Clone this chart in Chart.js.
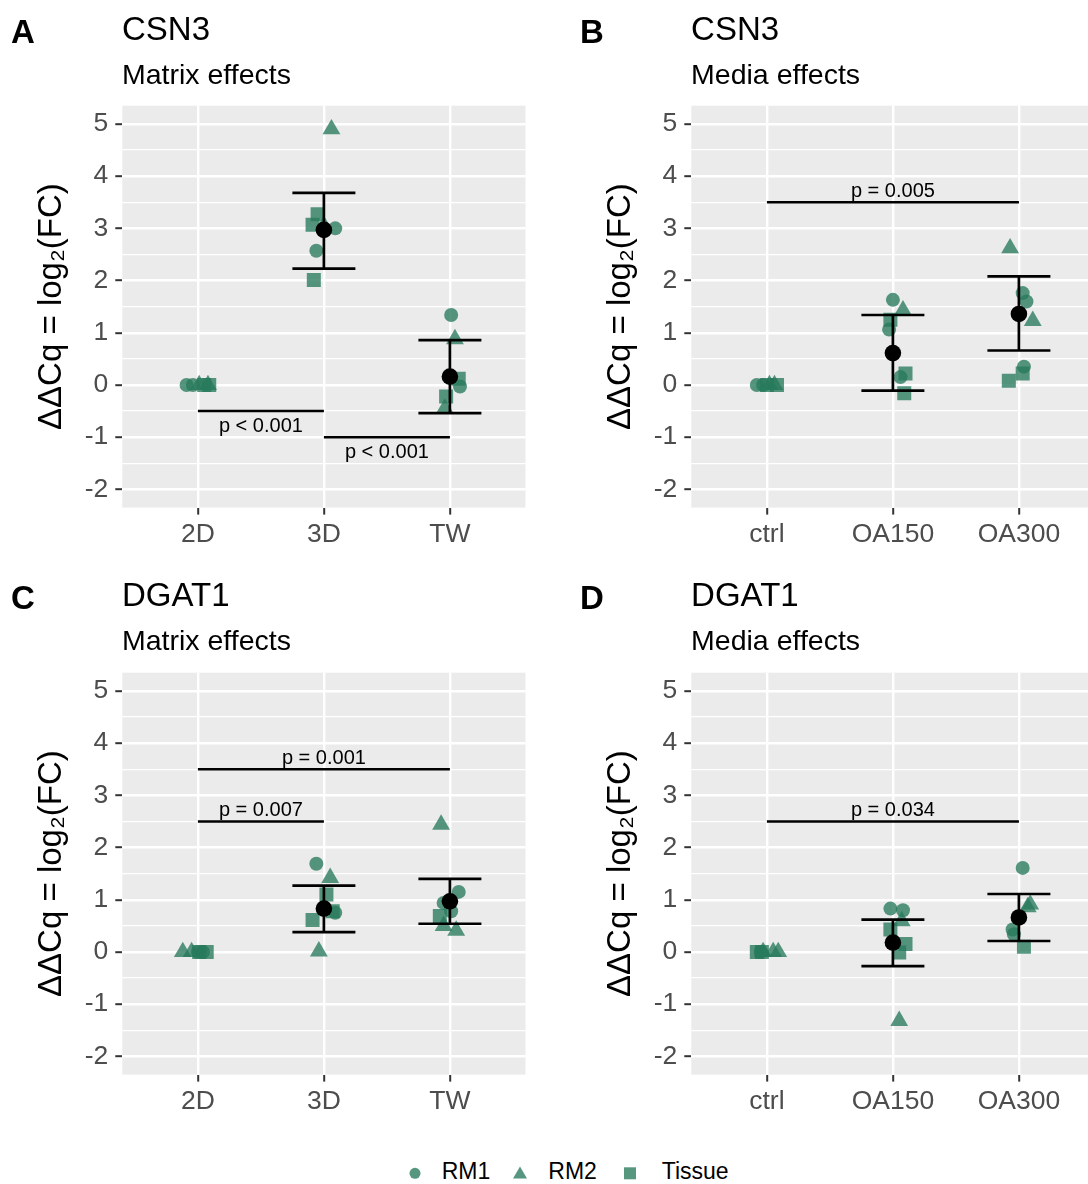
<!DOCTYPE html>
<html>
<head>
<meta charset="utf-8">
<script src="https://cdn.jsdelivr.net/npm/chart.js@4.4.1/dist/chart.umd.min.js"></script>
<style>
  html, body { margin: 0; padding: 0; background: #fff; overflow: hidden; }
  #page { position: relative; width: 1088px; height: 1184px; overflow: hidden;
          font-family: "Liberation Sans", Arial, sans-serif; color: #000; }
  .panel { position: absolute; width: 530px; height: 566px; }
  .panel canvas { position: absolute; left: 0; top: 0; }
  .tag { position: absolute; left: 11px; top: 14.5px; font-size: 33px; line-height: 33px; font-weight: bold; }
  .title { position: absolute; left: 122px; top: 11.7px; font-size: 33px; line-height: 33px; }
  .subtitle { position: absolute; left: 122px; top: 59.6px; font-size: 28.5px; line-height: 28.5px; }
  .legend-text { position: absolute; top: 1159.8px; font-size: 23px; line-height: 23px; }
  .legend-key { position: absolute; top: 1164px; }
</style>
</head>
<body>
<div id="page">
  <div class="panel" style="left:0;top:0">
    <canvas id="panelA" width="530" height="566"></canvas>
    <div class="tag">A</div><div class="title">CSN3</div><div class="subtitle">Matrix effects</div>
  </div>
  <div class="panel" style="left:569.1px;top:0">
    <canvas id="panelB" width="530" height="566"></canvas>
    <div class="tag">B</div><div class="title">CSN3</div><div class="subtitle">Media effects</div>
  </div>
  <div class="panel" style="left:0;top:566.7px">
    <canvas id="panelC" width="530" height="566"></canvas>
    <div class="tag">C</div><div class="title">DGAT1</div><div class="subtitle">Matrix effects</div>
  </div>
  <div class="panel" style="left:569.1px;top:566.7px">
    <canvas id="panelD" width="530" height="566"></canvas>
    <div class="tag">D</div><div class="title">DGAT1</div><div class="subtitle">Media effects</div>
  </div>

  <svg class="legend-key" style="left:405px" width="240" height="20">
    <circle cx="10" cy="9.3" r="5.5" fill="rgba(40,122,92,0.78)"/>
    <polygon points="115,2.5 122,14.5 108,14.5" fill="rgba(40,122,92,0.78)"/>
    <rect x="219" y="3.3" width="12" height="12" fill="rgba(40,122,92,0.78)"/>
  </svg>
  <div class="legend-text" style="left:441.7px">RM1</div>
  <div class="legend-text" style="left:548.3px">RM2</div>
  <div class="legend-text" style="left:661.7px">Tissue</div>
</div>

<script>
const matrixGroups = ['2D', '3D', 'TW'];
const mediaGroups = ['ctrl', 'OA150', 'OA300'];
const yTickValues = [-2, -1, 0, 1, 2, 3, 4, 5];

// each replicate: [group number, jitter, ΔΔCq]
const csn3MatrixRM1 = [[1, -0.09, 0], [1, -0.04, 0], [2, 0.09, 3.0], [2, -0.06, 2.57], [3, 0.01, 1.34], [3, 0.08, -0.03]];
const csn3MatrixRM2 = [[1, 0.01, 0], [1, 0.08, 0], [2, 0.06, 4.9], [2, 0.0, 3.05], [3, 0.04, 0.88], [3, -0.04, -0.45]];
const csn3MatrixTissue = [[1, 0.05, 0], [1, 0.09, 0], [2, -0.05, 3.27], [2, -0.09, 3.07], [2, -0.08, 2.01], [3, 0.07, 0.12], [3, -0.03, -0.22]];
const csn3MatrixMean = [null, 2.97, 0.16];
const csn3MatrixLow = [null, 2.23, -0.54];
const csn3MatrixHigh = [null, 3.68, 0.86];
const csn3MatrixTests = [
  { from: 1, to: 2, y: -0.5, label: 'p < 0.001', below: true },
  { from: 2, to: 3, y: -1, label: 'p < 0.001', below: true }
];

const csn3MediaRM1 = [[1, -0.08, 0], [1, -0.03, 0], [2, 0.0, 1.63], [2, -0.03, 1.06], [2, 0.06, 0.15], [3, 0.03, 1.76], [3, 0.06, 1.6], [3, 0.04, 0.35]];
const csn3MediaRM2 = [[1, 0.02, 0], [1, 0.06, 0], [2, 0.08, 1.43], [3, -0.07, 2.62], [3, 0.11, 1.23]];
const csn3MediaTissue = [[1, 0.0, 0], [1, 0.08, 0], [2, -0.02, 1.25], [2, 0.1, 0.22], [2, 0.09, -0.16], [3, 0.03, 0.22], [3, -0.08, 0.08]];
const csn3MediaMean = [null, 0.61, 1.36];
const csn3MediaLow = [null, -0.11, 0.66];
const csn3MediaHigh = [null, 1.34, 2.08];
const csn3MediaTests = [
  { from: 1, to: 3, y: 3.5, label: 'p = 0.005', below: false }
];

const dgat1MatrixRM1 = [[1, 0.0, 0], [1, 0.04, 0], [2, -0.06, 1.69], [2, 0.09, 0.75], [3, 0.07, 1.15], [3, -0.05, 0.94], [3, 0.01, 0.78]];
const dgat1MatrixRM2 = [[1, -0.12, 0], [1, -0.05, 0], [2, 0.05, 1.42], [2, -0.04, 0.01], [3, -0.07, 2.44], [3, -0.05, 0.5], [3, 0.05, 0.41]];
const dgat1MatrixTissue = [[1, 0.01, 0], [1, 0.07, 0], [2, 0.02, 1.1], [2, 0.07, 0.78], [2, -0.09, 0.61], [3, -0.08, 0.69]];
const dgat1MatrixMean = [null, 0.83, 0.97];
const dgat1MatrixLow = [null, 0.38, 0.54];
const dgat1MatrixHigh = [null, 1.27, 1.40];
const dgat1MatrixTests = [
  { from: 1, to: 3, y: 3.5, label: 'p = 0.001', below: false },
  { from: 1, to: 2, y: 2.5, label: 'p = 0.007', below: false }
];

const dgat1MediaRM1 = [[1, -0.05, 0], [2, -0.02, 0.83], [2, 0.08, 0.8], [3, 0.03, 1.61], [3, -0.05, 0.43], [3, -0.04, 0.34]];
const dgat1MediaRM2 = [[1, -0.03, 0], [1, 0.05, 0], [1, 0.09, 0], [2, 0.07, 0.59], [2, 0.05, -1.32], [3, 0.09, 0.91], [3, 0.07, 0.86]];
const dgat1MediaTissue = [[1, -0.08, 0], [1, -0.04, 0], [2, -0.02, 0.43], [2, 0.1, 0.15], [2, 0.05, -0.01], [3, 0.04, 0.1]];
const dgat1MediaMean = [null, 0.18, 0.66];
const dgat1MediaLow = [null, -0.27, 0.21];
const dgat1MediaHigh = [null, 0.62, 1.11];
const dgat1MediaTests = [
  { from: 1, to: 3, y: 2.5, label: 'p = 0.034', below: false }
];

const FONT = '"Liberation Sans", Arial, sans-serif';
const GREEN = 'rgba(40,122,92,0.78)';
Chart.defaults.font.family = FONT;

// grey panel behind the grid, like ggplot's theme_gray
const panelBackground = {
  id: 'panelBackground',
  beforeDraw(chart) {
    const { ctx, chartArea: a } = chart;
    ctx.save();
    ctx.fillStyle = '#EBEBEB';
    ctx.fillRect(a.left, a.top, a.right - a.left, a.bottom - a.top);
    ctx.restore();
  }
};

// mean ± interval whiskers, drawn just under the black mean dots (dataset 0)
const errorBars = {
  id: 'errorBars',
  beforeDatasetDraw(chart, args, opts) {
    if (args.index !== 0) return;
    const { ctx, scales: { x, y } } = chart;
    ctx.save();
    ctx.strokeStyle = '#000';
    ctx.lineWidth = 2.7;
    opts.low.forEach((lo, i) => {
      if (lo == null) return;
      const g = i + 1;
      const xc = x.getPixelForValue(g);
      const xl = x.getPixelForValue(g - opts.halfWidth);
      const xr = x.getPixelForValue(g + opts.halfWidth);
      const yl = y.getPixelForValue(lo);
      const yh = y.getPixelForValue(opts.high[i]);
      ctx.beginPath();
      ctx.moveTo(xc, yl); ctx.lineTo(xc, yh);
      ctx.moveTo(xl, yl); ctx.lineTo(xr, yl);
      ctx.moveTo(xl, yh); ctx.lineTo(xr, yh);
      ctx.stroke();
    });
    ctx.restore();
  }
};

// significance bars with their p-values
const significance = {
  id: 'significance',
  afterDatasetsDraw(chart, args, opts) {
    const { ctx, scales: { x, y } } = chart;
    ctx.save();
    ctx.strokeStyle = '#000';
    ctx.fillStyle = '#000';
    ctx.lineWidth = 2.5;
    ctx.font = '20px ' + FONT;
    ctx.textAlign = 'center';
    opts.tests.forEach(t => {
      const x1 = x.getPixelForValue(t.from);
      const x2 = x.getPixelForValue(t.to);
      const yy = y.getPixelForValue(t.y);
      ctx.beginPath();
      ctx.moveTo(x1, yy); ctx.lineTo(x2, yy);
      ctx.stroke();
      if (t.below) {
        ctx.textBaseline = 'top';
        ctx.fillText(t.label, (x1 + x2) / 2, yy + 5);
      } else {
        ctx.textBaseline = 'bottom';
        ctx.fillText(t.label, (x1 + x2) / 2, yy - 1);
      }
    });
    ctx.restore();
  }
};

const yGridValues = [];
yTickValues.forEach((v, i) => {
  yGridValues.push(v);
  if (i < yTickValues.length - 1) yGridValues.push(v + 0.5);
});

function toPoints(rows) {
  return rows.map(([g, jitter, v]) => ({ x: g + jitter, y: v }));
}

function drawPanel(id, groups, rm1, rm2, tissue, mean, low, high, tests) {
  const meanPoints = [];
  mean.forEach((v, i) => { if (v != null) meanPoints.push({ x: i + 1, y: v }); });

  new Chart(document.getElementById(id), {
    type: 'scatter',
    data: {
      datasets: [
        { label: 'Mean', data: meanPoints, pointStyle: 'circle', pointRadius: 8.3,
          backgroundColor: '#000', borderWidth: 0 },
        { label: 'RM1', data: toPoints(rm1), pointStyle: 'circle', pointRadius: 7,
          backgroundColor: GREEN, borderWidth: 0 },
        { label: 'RM2', data: toPoints(rm2), pointStyle: 'triangle', pointRadius: 10.3,
          backgroundColor: GREEN, borderWidth: 0 },
        { label: 'Tissue', data: toPoints(tissue), pointStyle: 'rect', pointRadius: 9.9,
          backgroundColor: GREEN, borderWidth: 0 }
      ]
    },
    options: {
      responsive: false,
      animation: false,
      events: [],
      layout: { autoPadding: false, padding: { left: 0, top: 105.7, right: 4.5, bottom: 8.4 } },
      plugins: {
        legend: { display: false },
        tooltip: { enabled: false },
        errorBars: { low, high, halfWidth: 0.25 },
        significance: { tests }
      },
      scales: {
        x: {
          type: 'linear',
          min: 0.4,
          max: 3.6,
          afterBuildTicks: s => { s.ticks = groups.map((_, i) => ({ value: i + 1 })); },
          afterFit: s => { s.height = 50; },
          ticks: {
            autoSkip: false,
            maxRotation: 0,
            padding: 4,
            color: '#4D4D4D',
            font: { size: 26.5 },
            callback: (v, i) => groups[i]
          },
          grid: { color: '#fff', lineWidth: 2.4, tickColor: '#333', tickLength: 7, tickWidth: 2 },
          border: { display: false }
        },
        y: {
          min: -2.35,
          max: 5.35,
          afterBuildTicks: s => { s.ticks = yGridValues.map(v => ({ value: v })); },
          afterFit: s => { s.width = 122.3; },
          ticks: {
            autoSkip: false,
            padding: 7,
            color: '#4D4D4D',
            font: { size: 26.5 },
            callback: v => Number.isInteger(v) ? String(v) : ''
          },
          grid: {
            color: '#fff',
            lineWidth: c => Number.isInteger(c.tick.value) ? 2.4 : 1.2,
            tickColor: c => Number.isInteger(c.tick.value) ? '#333' : 'rgba(0,0,0,0)',
            tickLength: 7,
            tickWidth: 2
          },
          border: { display: false },
          title: {
            display: true,
            text: 'ΔΔCq = log₂(FC)',
            color: '#000',
            font: { size: 33 },
            padding: { top: 32, bottom: 0 }
          }
        }
      }
    },
    plugins: [panelBackground, errorBars, significance]
  });
}

drawPanel('panelA', matrixGroups, csn3MatrixRM1, csn3MatrixRM2, csn3MatrixTissue,
  csn3MatrixMean, csn3MatrixLow, csn3MatrixHigh, csn3MatrixTests);
drawPanel('panelB', mediaGroups, csn3MediaRM1, csn3MediaRM2, csn3MediaTissue,
  csn3MediaMean, csn3MediaLow, csn3MediaHigh, csn3MediaTests);
drawPanel('panelC', matrixGroups, dgat1MatrixRM1, dgat1MatrixRM2, dgat1MatrixTissue,
  dgat1MatrixMean, dgat1MatrixLow, dgat1MatrixHigh, dgat1MatrixTests);
drawPanel('panelD', mediaGroups, dgat1MediaRM1, dgat1MediaRM2, dgat1MediaTissue,
  dgat1MediaMean, dgat1MediaLow, dgat1MediaHigh, dgat1MediaTests);
</script>
</body>
</html>
